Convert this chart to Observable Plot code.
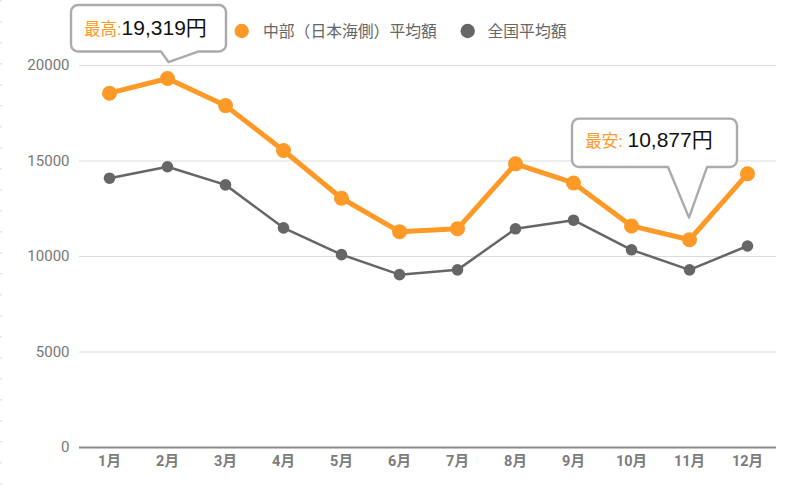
<!DOCTYPE html>
<html>
<head>
<meta charset="utf-8">
<script src="https://cdn.jsdelivr.net/npm/d3@7"></script>
<script src="https://cdn.jsdelivr.net/npm/@observablehq/plot@0.6"></script>
<style>
  html, body { margin: 0; padding: 0; background: #fff; }
  #chart { position: relative; width: 800px; height: 492px; }
</style>
</head>
<body>
<div id="chart"></div>
<script>
// ---- data ----
const months = ["1月","2月","3月","4月","5月","6月","7月","8月","9月","10月","11月","12月"];
const chubuValues    = [18550, 19319, 17900, 15550, 13050, 11300, 11450, 14850, 13850, 11600, 10877, 14330];
const nationalValues = [14100, 14700, 13750, 11500, 10100,  9050,  9300, 11450, 11900, 10350,  9300, 10550];
const seriesNames = ["中部（日本海側）平均額", "全国平均額"];
const yTicks = [0, 5000, 10000, 15000, 20000];
const calloutMonths = ["2月", "11月"];
const calloutLabels = ["最高:", "最安: "];
const calloutValues = [19319, 10877];

// ---- table ----
const table = [
  ...months.map((m, i) => ({month: m, value: chubuValues[i], series: seriesNames[0]})),
  ...months.map((m, i) => ({month: m, value: nationalValues[i], series: seriesNames[1]}))
];
const chubu = table.filter(d => d.series === seriesNames[0]);
const national = table.filter(d => d.series === seriesNames[1]);

const ORANGE = "#FD9A27";
const GRAY = "#666666";
const FONT = "Roboto, 'Noto Sans CJK JP', sans-serif";

const chart = Plot.plot({
  width: 800,
  height: 492,
  marginLeft: 79,
  marginRight: 24,
  marginTop: 65,
  marginBottom: 45,
  style: {fontFamily: FONT, background: "#fff", overflow: "visible"},
  x: {type: "point", domain: months, padding: 0.5, label: null},
  y: {domain: [0, 20000], label: null},
  marks: [
    Plot.gridY(yTicks.filter(d => d > 0), {stroke: "#dcdcdc", strokeOpacity: 1, strokeWidth: 1}),
    Plot.ruleY([0], {stroke: "#8a8a8a", strokeWidth: 2}),
    Plot.axisY(yTicks, {tickSize: 0, tickPadding: 10, fontSize: 15, color: "#777", tickFormat: d => String(d), label: null}),
    Plot.axisX({tickSize: 0, tickPadding: 8.5, fontSize: 14.5, fontWeight: "bold", color: "#7c7c7c", label: null}),
    Plot.line(national, {x: "month", y: "value", stroke: GRAY, strokeWidth: 2.5}),
    Plot.dot(national, {x: "month", y: "value", r: 5.8, fill: GRAY}),
    Plot.line(chubu, {x: "month", y: "value", stroke: ORANGE, strokeWidth: 5}),
    Plot.dot(chubu, {x: "month", y: "value", r: 7.5, fill: ORANGE})
  ]
});

document.getElementById("chart").appendChild(chart);

const sx = chart.scale("x"), sy = chart.scale("y");
const svg = d3.select(chart);

// faint dotted left border
svg.append("line")
  .attr("x1", 1).attr("x2", 1).attr("y1", 0).attr("y2", 492)
  .attr("stroke", "#c8c8c8").attr("stroke-width", 1).attr("stroke-dasharray", "1.5,19.5");

// legend
const legendLayout = [{cx: 241.7, tx: 263}, {cx: 467.7, tx: 487.5}];
const legendColors = [ORANGE, GRAY];
const lg = svg.append("g").attr("font-family", FONT).attr("text-anchor", "start");
seriesNames.forEach((name, i) => {
  lg.append("circle").attr("cx", legendLayout[i].cx).attr("cy", 31).attr("r", 7.2).attr("fill", legendColors[i]);
  lg.append("text").attr("x", legendLayout[i].tx).attr("y", 31).attr("dy", "0.36em")
    .attr("text-anchor", "start")
    .attr("font-size", 15.8).attr("fill", "#666").text(name);
});

// callouts (positions relative to the data point via scales)
const calloutLayout = [
  {left: -96, right: 59, top: 5, bottomOff: -26.5, apexDx: 1.5, apexOff: -16, baseL: -6, baseR: 31, textDx: 13, textDy: 29.5},
  {left: -117, right: 48, topOff: -120.6, bottomOff: -72.2, apexDx: 0, apexOff: -21.6, baseL: -21, baseR: 18, textDx: 13.3, textDy: 28.4}
];
const fmt = d3.format(",");
const cg = svg.append("g").attr("font-family", "'Liberation Sans', 'Noto Sans CJK JP', sans-serif").attr("text-anchor", "start");
calloutMonths.forEach((m, i) => {
  const L = calloutLayout[i];
  const px = sx.apply(m), py = sy.apply(calloutValues[i]);
  const x0 = px + L.left, x1 = px + L.right;
  const y0 = L.top !== undefined ? L.top : py + L.topOff;
  const y1 = py + L.bottomOff;
  const ax = px + L.apexDx, ay = py + L.apexOff;
  const bl = px + L.baseL, br = px + L.baseR;
  const r = 7;
  const p = d3.path();
  p.moveTo(x0 + r, y0);
  p.lineTo(x1 - r, y0);
  p.arcTo(x1, y0, x1, y0 + r, r);
  p.lineTo(x1, y1 - r);
  p.arcTo(x1, y1, x1 - r, y1, r);
  p.lineTo(br, y1);
  p.lineTo(ax, ay);
  p.lineTo(bl, y1);
  p.lineTo(x0 + r, y1);
  p.arcTo(x0, y1, x0, y1 - r, r);
  p.lineTo(x0, y0 + r);
  p.arcTo(x0, y0, x0 + r, y0, r);
  p.closePath();
  cg.append("path").attr("d", p.toString())
    .attr("fill", "#fff").attr("stroke", "#ababab").attr("stroke-width", 2.4).attr("stroke-linejoin", "round");
  const t = cg.append("text").attr("x", x0 + L.textDx).attr("y", y0 + L.textDy)
    .attr("text-anchor", "start").style("white-space", "pre");
  t.append("tspan").attr("fill", ORANGE).attr("font-size", 16.5).text(calloutLabels[i]);
  t.append("tspan").attr("fill", "#111").attr("font-size", 21).text(fmt(calloutValues[i]) + "円");
});
</script>
</body>
</html>
